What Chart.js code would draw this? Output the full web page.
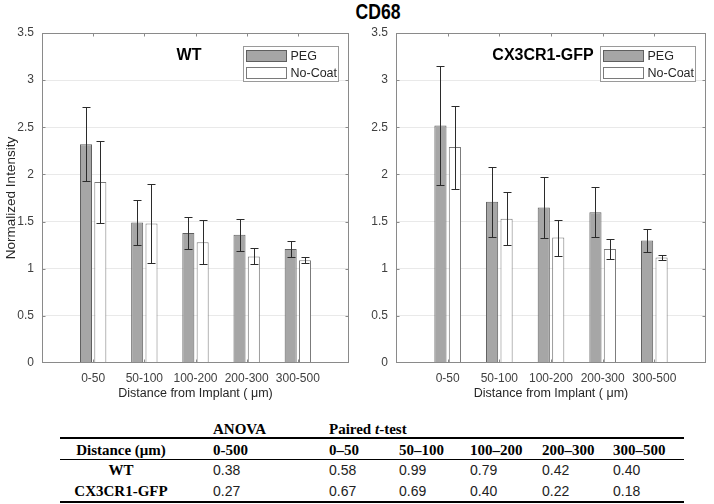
<!DOCTYPE html>
<html>
<head>
<meta charset="utf-8">
<script src="https://cdn.jsdelivr.net/npm/chart.js@4.4.0/dist/chart.umd.min.js"></script>
<style>
  body { margin: 0; width: 714px; height: 504px; background: #fff; position: relative; overflow: hidden;
         font-family: "Liberation Sans", Arial, sans-serif; }
  #title { position: absolute; left: 278px; top: 1px; width: 200px; text-align: center; font-weight: bold;
           font-size: 22px; line-height: 22px; transform: scaleX(0.8);
           font-family: "Liberation Sans", Arial, sans-serif; }
  canvas { position: absolute; top: 0; }
  .t { position: absolute; white-space: nowrap; line-height: 16px; height: 16px; }
  .hd { font-family: "Liberation Serif", "Times New Roman", serif; font-weight: bold; font-size: 15px; }
  .num { font-size: 14px; color: #222; }
  .rule { position: absolute; left: 60px; width: 624px; background: #000; }
</style>
</head>
<body>
<div id="title">CD68</div>
<canvas id="wt" width="357" height="404" style="left:0px"></canvas>
<canvas id="cx" width="357" height="404" style="left:357px"></canvas>
<div id="table"></div>

<script>
// DATOS

const categories = ['0-50', '50-100', '100-200', '200-300', '300-500'];
const seriesNames = ['PEG', 'No-Coat'];

const wtPeg = [2.32, 1.49, 1.38, 1.36, 1.21];
const wtPegErr = [0.39, 0.235, 0.17, 0.17, 0.085];
const wtNoCoat = [1.92, 1.48, 1.28, 1.13, 1.09];
const wtNoCoatErr = [0.43, 0.42, 0.235, 0.085, 0.03];

const cxPeg = [2.52, 1.71, 1.65, 1.60, 1.30];
const cxPegErr = [0.63, 0.37, 0.32, 0.265, 0.12];
const cxNoCoat = [2.29, 1.53, 1.33, 1.21, 1.12];
const cxNoCoatErr = [0.44, 0.28, 0.19, 0.105, 0.03];

const yMin = 0, yMax = 3.5, yStep = 0.5;

// tabla de p-valores
const tableHead1 = ['ANOVA', 'Paired <i>t</i>-test'];
const tableHead2 = ['Distance (μm)', '0-500', '0–50', '50–100', '100–200', '200–300', '300–500'];
const tableRowNames = ['WT', 'CX3CR1-GFP'];
const wtP = ['0.38', '0.58', '0.99', '0.79', '0.42', '0.40'];
const cxP = ['0.27', '0.67', '0.69', '0.40', '0.22', '0.18'];


// ESTILO
const axisColor = '#8a8a8a';
const textColor = '#404040';
const pegFill = '#a6a6a6', pegBorder = '#5f5f5f';
const ncFill = '#ffffff', ncBorder = '#7a7a7a';
const fam = '"Liberation Sans", Arial, sans-serif';


// PLUGIN: barras de error, caja, ticks, leyenda y subtitulo
const decor = {
    id: 'decor',
    afterDatasetsDraw(chart, args, opts) {
        const ctx = chart.ctx;
        const y = chart.scales.y;
        ctx.save();
        ctx.strokeStyle = '#2b2b2b';
        ctx.lineWidth = 1;
        chart.data.datasets.forEach((ds, di) => {
            const meta = chart.getDatasetMeta(di);
            meta.data.forEach((el, i) => {
                const v = ds.data[i];
                if (v === null) return;
                const e = ds.err[i];
                const x = Math.round(el.x) + 0.5;
                const y1 = Math.round(y.getPixelForValue(v + e)) + 0.5;
                const y2 = Math.round(y.getPixelForValue(v - e)) + 0.5;
                ctx.beginPath();
                ctx.moveTo(x, y1); ctx.lineTo(x, y2);
                ctx.moveTo(x - 4, y1); ctx.lineTo(x + 4, y1);
                ctx.moveTo(x - 4, y2); ctx.lineTo(x + 4, y2);
                ctx.stroke();
            });
        });
        ctx.restore();
    },
    afterDraw(chart, args, opts) {
        const ctx = chart.ctx;
        const a = chart.chartArea;
        const xs = chart.scales.x, ys = chart.scales.y;
        const L = Math.round(a.left) + 0.5, R = Math.round(a.right) - 0.5;
        const T = Math.round(a.top) + 0.5, B = Math.round(a.bottom) - 0.5;
        ctx.save();
        ctx.strokeStyle = axisColor;
        ctx.lineWidth = 1;
        ctx.strokeRect(L, T, R - L, B - T);
        ctx.beginPath();
        for (let v = yMin + yStep; v < yMax; v += yStep) {
            const py = Math.round(ys.getPixelForValue(v)) + 0.5;
            ctx.moveTo(L, py); ctx.lineTo(L + 3, py);
            ctx.moveTo(R, py); ctx.lineTo(R - 3, py);
        }
        for (let i = 1; i <= categories.length; i++) {
            const px = Math.round(xs.getPixelForValue(i)) + 0.5;
            ctx.moveTo(px, B); ctx.lineTo(px, B - 3);
            ctx.moveTo(px, T); ctx.lineTo(px, T + 3);
        }
        ctx.stroke();

        // subtitulo
        ctx.fillStyle = '#000';
        ctx.font = 'bold 16px ' + fam;
        ctx.textAlign = 'center';
        ctx.textBaseline = 'middle';
        ctx.fillText(opts.subtitle, a.left + 147, 56);

        // leyenda
        const bx = Math.round(a.right) - 106 + 0.5, by = 46 + 0.5;
        ctx.fillStyle = '#fff';
        ctx.fillRect(bx, by, 95, 35);
        ctx.strokeStyle = '#9a9a9a';
        ctx.strokeRect(bx, by, 95, 35);
        ctx.font = '12.5px ' + fam;
        ctx.textAlign = 'left';
        chart.data.datasets.forEach((ds, di) => {
            const sy = by + 4 + di * 17;
            ctx.fillStyle = ds.backgroundColor;
            ctx.fillRect(bx + 3, sy, 40, 11);
            ctx.strokeStyle = ds.borderColor;
            ctx.strokeRect(bx + 3, sy, 40, 11);
            ctx.fillStyle = '#262626';
            ctx.fillText(ds.label, bx + 47, sy + 6);
        });
        ctx.restore();
    }
};


// GRAFICAS

function makeChart(id, peg, pegErr, nc, ncErr, subtitle, yWidth, rightPad, showYTitle) {
    const labels = [''].concat(categories, ['']);
    new Chart(document.getElementById(id), {
        type: 'bar',
        data: {
            labels: labels,
            datasets: [{
                label: seriesNames[0],
                data: [null].concat(peg, [null]),
                err: [0].concat(pegErr, [0]),
                backgroundColor: pegFill,
                borderColor: pegBorder,
                borderWidth: 1
            }, {
                label: seriesNames[1],
                data: [null].concat(nc, [null]),
                err: [0].concat(ncErr, [0]),
                backgroundColor: ncFill,
                borderColor: ncBorder,
                borderWidth: 1
            }]
        },
        options: {
            responsive: false,
            animation: false,
            categoryPercentage: 0.56,
            barPercentage: 0.84,
            layout: { padding: { left: 0, top: 33, right: rightPad, bottom: 0 } },
            plugins: {
                legend: { display: false },
                tooltip: { enabled: false },
                decor: { subtitle: subtitle }
            },
            scales: {
                x: {
                    offset: false,
                    grid: { display: false, drawTicks: false },
                    border: { display: false },
                    ticks: { color: textColor, padding: 8, autoSkip: false, maxRotation: 0,
                             font: { size: 12, family: fam } },
                    title: { display: true, text: 'Distance from Implant ( μm)', color: '#262626',
                             padding: { top: 3, bottom: 3 },
                             font: { size: 12.5, family: fam } },
                    afterFit(scale) { scale.height = 41; }
                },
                y: {
                    min: yMin, max: yMax,
                    grid: {
                        drawTicks: false,
                        color: (c) => (c.tick.value === yMin || c.tick.value === yMax) ? 'rgba(0,0,0,0)' : '#e9e9e9'
                    },
                    border: { display: false },
                    ticks: { stepSize: yStep, color: textColor, padding: 8,
                             callback: (v) => String(v),
                             font: { size: 12, family: fam } },
                    title: { display: showYTitle, text: 'Normalized Intensity', color: '#262626',
                             padding: { top: 3, bottom: 3 },
                             font: { size: 13.5, family: fam } },
                    afterFit(scale) { scale.width = yWidth; }
                }
            }
        },
        plugins: [decor]
    });
}

makeChart('wt', wtPeg, wtPegErr, wtNoCoat, wtNoCoatErr, 'WT', 42, 2, true);
makeChart('cx', cxPeg, cxPegErr, cxNoCoat, cxNoCoatErr, 'CX3CR1-GFP', 39, 5, false);


// TABLA
const colLeft = [213, 329, 399, 470, 542, 613];
const labelCenter = 121;
const rowY = [429, 450, 470, 491];
let html = '';
function cell(text, cls, x, yc, center) {
    const st = center ? `left:${x - 100}px;width:200px;text-align:center;` : `left:${x}px;`;
    return `<div class="t ${cls}" style="${st}top:${yc - 8}px">${text}</div>`;
}
html += cell(tableHead1[0], 'hd', colLeft[0], rowY[0]);
html += cell(tableHead1[1], 'hd', colLeft[1], rowY[0]);
html += cell(tableHead2[0], 'hd', labelCenter, rowY[1], true);
for (let i = 1; i < tableHead2.length; i++) html += cell(tableHead2[i], 'hd', colLeft[i - 1], rowY[1]);
[wtP, cxP].forEach((row, r) => {
    html += cell(tableRowNames[r], 'hd', labelCenter, rowY[2 + r], true);
    row.forEach((v, i) => { html += cell(v, 'num', colLeft[i], rowY[2 + r]); });
});
html += '<div class="rule" style="top:437px;height:2px"></div>';
html += '<div class="rule" style="top:459px;height:1px"></div>';
html += '<div class="rule" style="top:501px;height:2px"></div>';
document.getElementById('table').innerHTML = html;
</script>
</body>
</html>
